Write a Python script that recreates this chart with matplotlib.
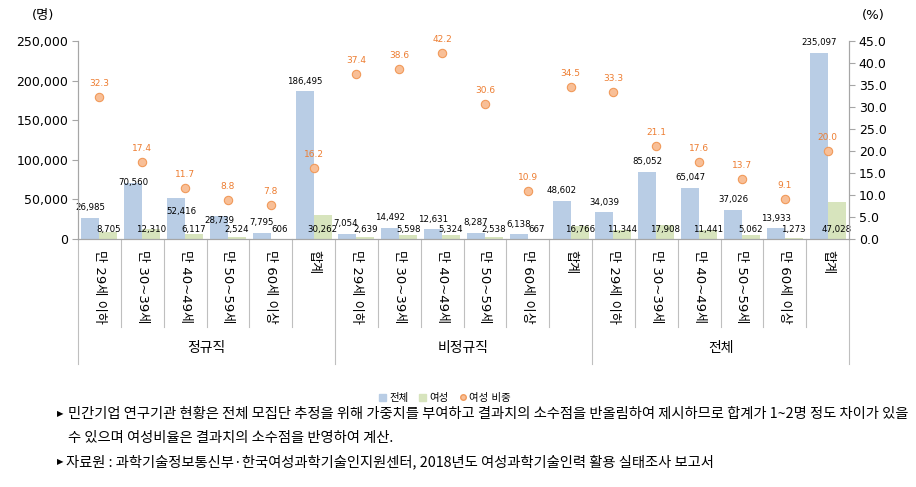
import numpy as np
import matplotlib
matplotlib.use("Agg")
import matplotlib.pyplot as plt
from matplotlib.lines import Line2D
from matplotlib.patches import Patch
import matplotlib.transforms as mtrans

plt.rcParams['font.family'] = ['DejaVu Sans', 'Noto Sans CJK KR']

# data
ages = ['만 29세 이하', '만 30~39세', '만 40~49세', '만 50~59세', '만 60세 이상', '합계']
groups = ['정규직', '비정규직', '전체']
total = [26985, 70560, 52416, 28739, 7795, 186495,
         7054, 14492, 12631, 8287, 6138, 48602,
         34039, 85052, 65047, 37026, 13933, 235097]
women = [8705, 12310, 6117, 2524, 606, 30262,
         2639, 5598, 5324, 2538, 667, 16766,
         11344, 17908, 11441, 5062, 1273, 47028]
ratio = [32.3, 17.4, 11.7, 8.8, 7.8, 16.2,
         37.4, 38.6, 42.2, 30.6, 10.9, 34.5,
         33.3, 21.1, 17.6, 13.7, 9.1, 20.0]

categories = ages * len(groups)
n = len(categories)
x = np.arange(n)

blue = '#B9CDE5'
green = '#D7E4BD'
orange = '#ED7D31'
grey = '#A6A6A6'

fig = plt.figure(figsize=(9.16, 4.87), dpi=100)
ax = fig.add_axes([0.0852, 0.509, 0.8417, 0.407])
ax2 = ax.twinx()

w = 0.42
ax.bar(x - w / 2, total, width=w, color=blue, zorder=2)
ax.bar(x + w / 2, women, width=w, color=green, zorder=2)
ax2.plot(x, ratio, 'o', ms=6, mfc='#F8BF97', mec='#F19A5A', mew=0.8, zorder=3)

ax.set_xlim(-0.5, n - 0.5)
ax.set_ylim(0, 250000)
ax2.set_ylim(0, 45)
ax.set_yticks(np.arange(0, 250001, 50000))
ax.set_yticklabels([f'{v:,}' for v in range(0, 250001, 50000)], fontsize=9)
ax2.set_yticks(np.arange(0, 45.1, 5))
ax2.set_yticklabels([f'{v:.1f}' for v in np.arange(0, 45.1, 5)], fontsize=9)
ax.set_xticks([])

for a in (ax, ax2):
    a.spines['top'].set_visible(False)
    for s in ('left', 'right', 'bottom'):
        a.spines[s].set_color(grey)
    a.tick_params(axis='y', length=4, color=grey, pad=3)

# data labels (pixel offsets; a few nudged as in the original)
px = 72 / 100
blue_shift = {1: (0, 1), 2: (5, -14), 3: (0, -4), 6: (-2, 10)}
for i in range(n):
    dx, dy = blue_shift.get(i, (0, 10))
    ax.annotate(f'{total[i]:,}', (x[i] - w / 2, total[i]), xytext=(dx * px, dy * px),
                textcoords='offset points', ha='center', va='center', fontsize=6.2)
    ax.annotate(f'{women[i]:,}', (x[i] + w / 2, 0), xytext=(0, 10 * px),
                textcoords='offset points', ha='center', va='center', fontsize=6.2)
    ax2.annotate(f'{ratio[i]:.1f}', (x[i], ratio[i]), xytext=(0, 13.5 * px),
                 textcoords='offset points', ha='center', va='center',
                 fontsize=6.5, color=orange)

# category axis: separators, rotated labels, group labels
trans = mtrans.blended_transform_factory(ax.transData, ax.transAxes)
for i in range(n + 1):
    bottom = -0.631 if i % len(ages) == 0 else -0.444
    ax.plot([i - 0.5, i - 0.5], [0, bottom], color='#BFBFBF', lw=0.8,
            transform=trans, clip_on=False)
for i, lab in enumerate(categories):
    ax.text(x[i], -0.056, lab, rotation=270, ha='center', va='top',
            fontsize=9.5, transform=trans)
for g, name in enumerate(groups):
    ax.text(g * len(ages) + 2.5, -0.55, name, ha='center', va='center',
            fontsize=10, transform=trans)

fig.text(43 / 916, 1 - 15 / 487, '(명)', ha='center', va='center', fontsize=9.5)
fig.text(873 / 916, 1 - 15 / 487, '(%)', ha='center', va='center', fontsize=9.5)

handles = [Patch(color=blue), Patch(color=green),
           Line2D([], [], ls='', marker='o', ms=4, mfc='#F8BF97', mec='#F19A5A')]
fig.legend(handles, ['전체', '여성', '여성 비중'], loc='center',
           bbox_to_anchor=(445 / 916, 1 - 398 / 487), ncol=3, frameon=False,
           fontsize=7.5, handlelength=0.7, handleheight=0.7, handletextpad=0.3,
           columnspacing=1.0)

notes = ['민간기업 연구기관 현황은 전체 모집단 추정을 위해 가중치를 부여하고 결과치의 소수점을 반올림하여 제시하므로 합계가 1~2명 정도 차이가 있을',
         '수 있으며 여성비율은 결과치의 소수점을 반영하여 계산.',
         '자료원 : 과학기술정보통신부·한국여성과학기술인지원센터, 2018년도 여성과학기술인력 활용 실태조사 보고서']
note_font = ['Noto Sans CJK KR', 'DejaVu Sans']
fig.text(57 / 916, 1 - 414 / 487, '▶', fontsize=6, va='center')
fig.text(68 / 916, 1 - 414 / 487, notes[0], fontsize=10.3, va='center', family=note_font)
fig.text(68 / 916, 1 - 438 / 487, notes[1], fontsize=10.3, va='center', family=note_font)
fig.text(57 / 916, 1 - 462 / 487, '▶', fontsize=6, va='center')
fig.text(66 / 916, 1 - 462 / 487, notes[2], fontsize=10.3, va='center', family=note_font)

fig.savefig('out.png', dpi=100)
